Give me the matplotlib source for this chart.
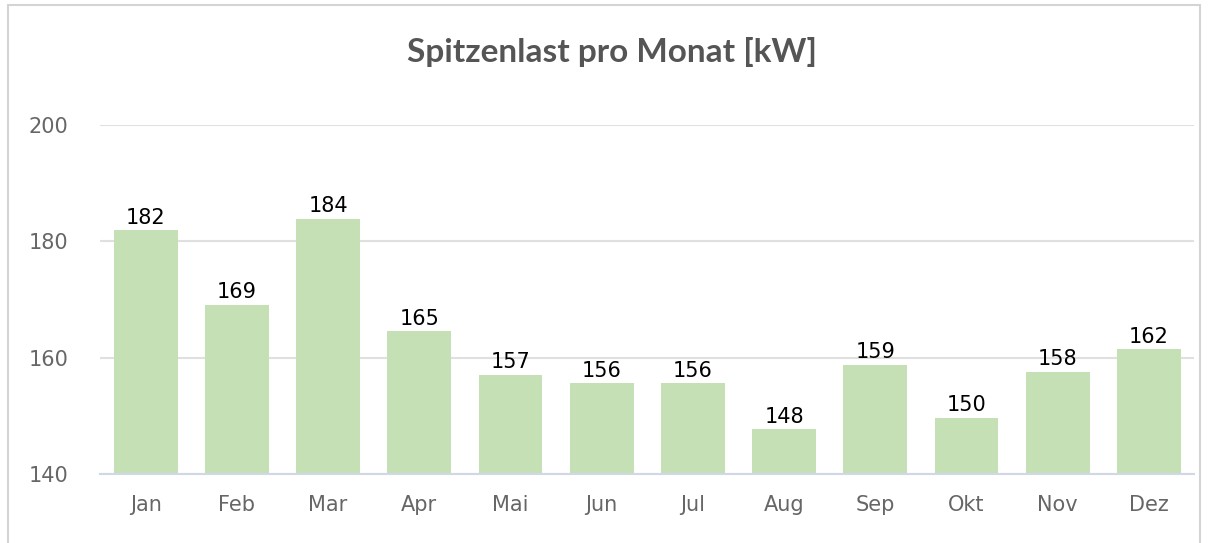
import matplotlib
matplotlib.use("Agg")
import matplotlib.pyplot as plt
from matplotlib.patches import Rectangle

plt.rcParams["font.family"] = ["DejaVu Sans"]

months = ["Jan", "Feb", "Mar", "Apr", "Mai", "Jun", "Jul", "Aug", "Sep", "Okt", "Nov", "Dez"]
peak_kw = [181.9, 169.1, 183.9, 164.6, 157.1, 155.6, 155.6, 147.7, 158.8, 149.7, 157.6, 161.5]
y_ticks = [140, 160, 180, 200]

fig = plt.figure(figsize=(12.08, 5.43), dpi=100)
ax = fig.add_axes([0.0828, 0.127, 0.906, 0.643])

x = range(len(months))
bars = ax.bar(x, peak_kw, width=0.7, color="#c5e0b4", zorder=2)
for b, v in zip(bars, peak_kw):
    ax.text(b.get_x() + b.get_width() / 2, v + 0.4, f"{v:.0f}",
            ha="center", va="bottom", fontsize=15, color="black",
            family="DejaVu Sans")

ax.set_xlim(-0.5, len(months) - 0.5)
ax.set_ylim(140, 200)
ax.set_yticks(y_ticks)
ax.set_xticks(list(x))
ax.set_xticklabels(months)
ax.grid(axis="y", color="#e0e0e0", linewidth=1.5, zorder=0)
for s in ["top", "right", "left"]:
    ax.spines[s].set_visible(False)
ax.spines["bottom"].set_color("#d0d8e8")
ax.spines["bottom"].set_linewidth(1.5)
ax.spines["bottom"].set_zorder(3)
ax.tick_params(axis="both", length=0, labelsize=15, labelcolor="#666666")
ax.tick_params(axis="x", pad=15)
ax.tick_params(axis="y", pad=23)
for lbl in ax.get_xticklabels() + ax.get_yticklabels():
    lbl.set_family("DejaVu Sans")

fig.text(0.507, 0.905, "Spitzenlast pro Monat [kW]", ha="center", va="center",
         fontsize=24, fontweight="bold", color="#555555", family="Lato")

fig.patches.append(Rectangle((8 / 1208, -0.01), 1192 / 1208, 1 - 5 / 543 + 0.01,
                             transform=fig.transFigure, fill=False,
                             edgecolor="#d4d4d4", linewidth=1.5))

fig.savefig("out.png", dpi=100)
